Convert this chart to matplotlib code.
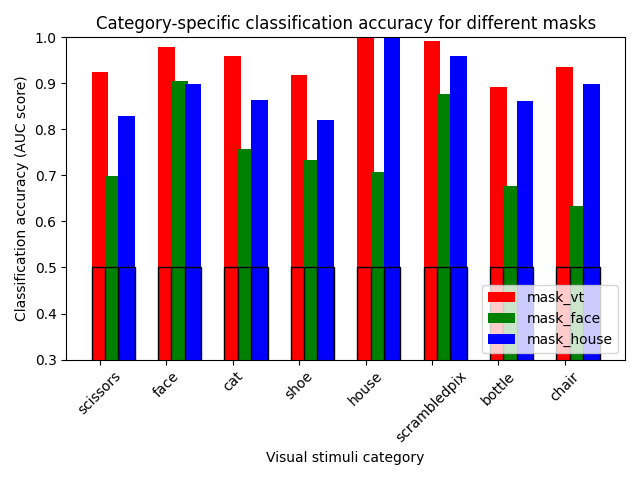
import numpy as np
import matplotlib
matplotlib.use('Agg')
import matplotlib.pyplot as plt

categories = ['scissors', 'face', 'cat', 'shoe', 'house', 'scrambledpix', 'bottle', 'chair']
mask_names = ['mask_vt', 'mask_face', 'mask_house']

# mean AUC scores per mask
mask_scores = {
    'mask_vt':    [0.924, 0.980, 0.959, 0.918, 1.000, 0.991, 0.892, 0.935],
    'mask_face':  [0.699, 0.905, 0.758, 0.734, 0.708, 0.877, 0.676, 0.634],
    'mask_house': [0.829, 0.899, 0.864, 0.820, 1.000, 0.959, 0.862, 0.898],
}
# chance level scores
mask_chance_scores = {
    'mask_vt':    [0.5] * 8,
    'mask_face':  [0.5] * 8,
    'mask_house': [0.5] * 8,
}

plt.figure(figsize=(6.4, 4.8), dpi=100)

tick_position = np.arange(len(categories))
plt.xticks(tick_position, categories, rotation=45)

for color, mask_name in zip('rgb', mask_names):
    plt.bar(tick_position, mask_scores[mask_name], label=mask_name,
            width=.25, color=color)
    plt.bar(tick_position, mask_chance_scores[mask_name],
            width=.25, edgecolor='k', facecolor='none')
    tick_position = tick_position + .2

plt.ylabel('Classification accuracy (AUC score)')
plt.xlabel('Visual stimuli category')
plt.ylim(0.3, 1)
plt.legend(loc='lower right')
plt.title('Category-specific classification accuracy for different masks')
plt.tight_layout()
plt.savefig('out.png')
